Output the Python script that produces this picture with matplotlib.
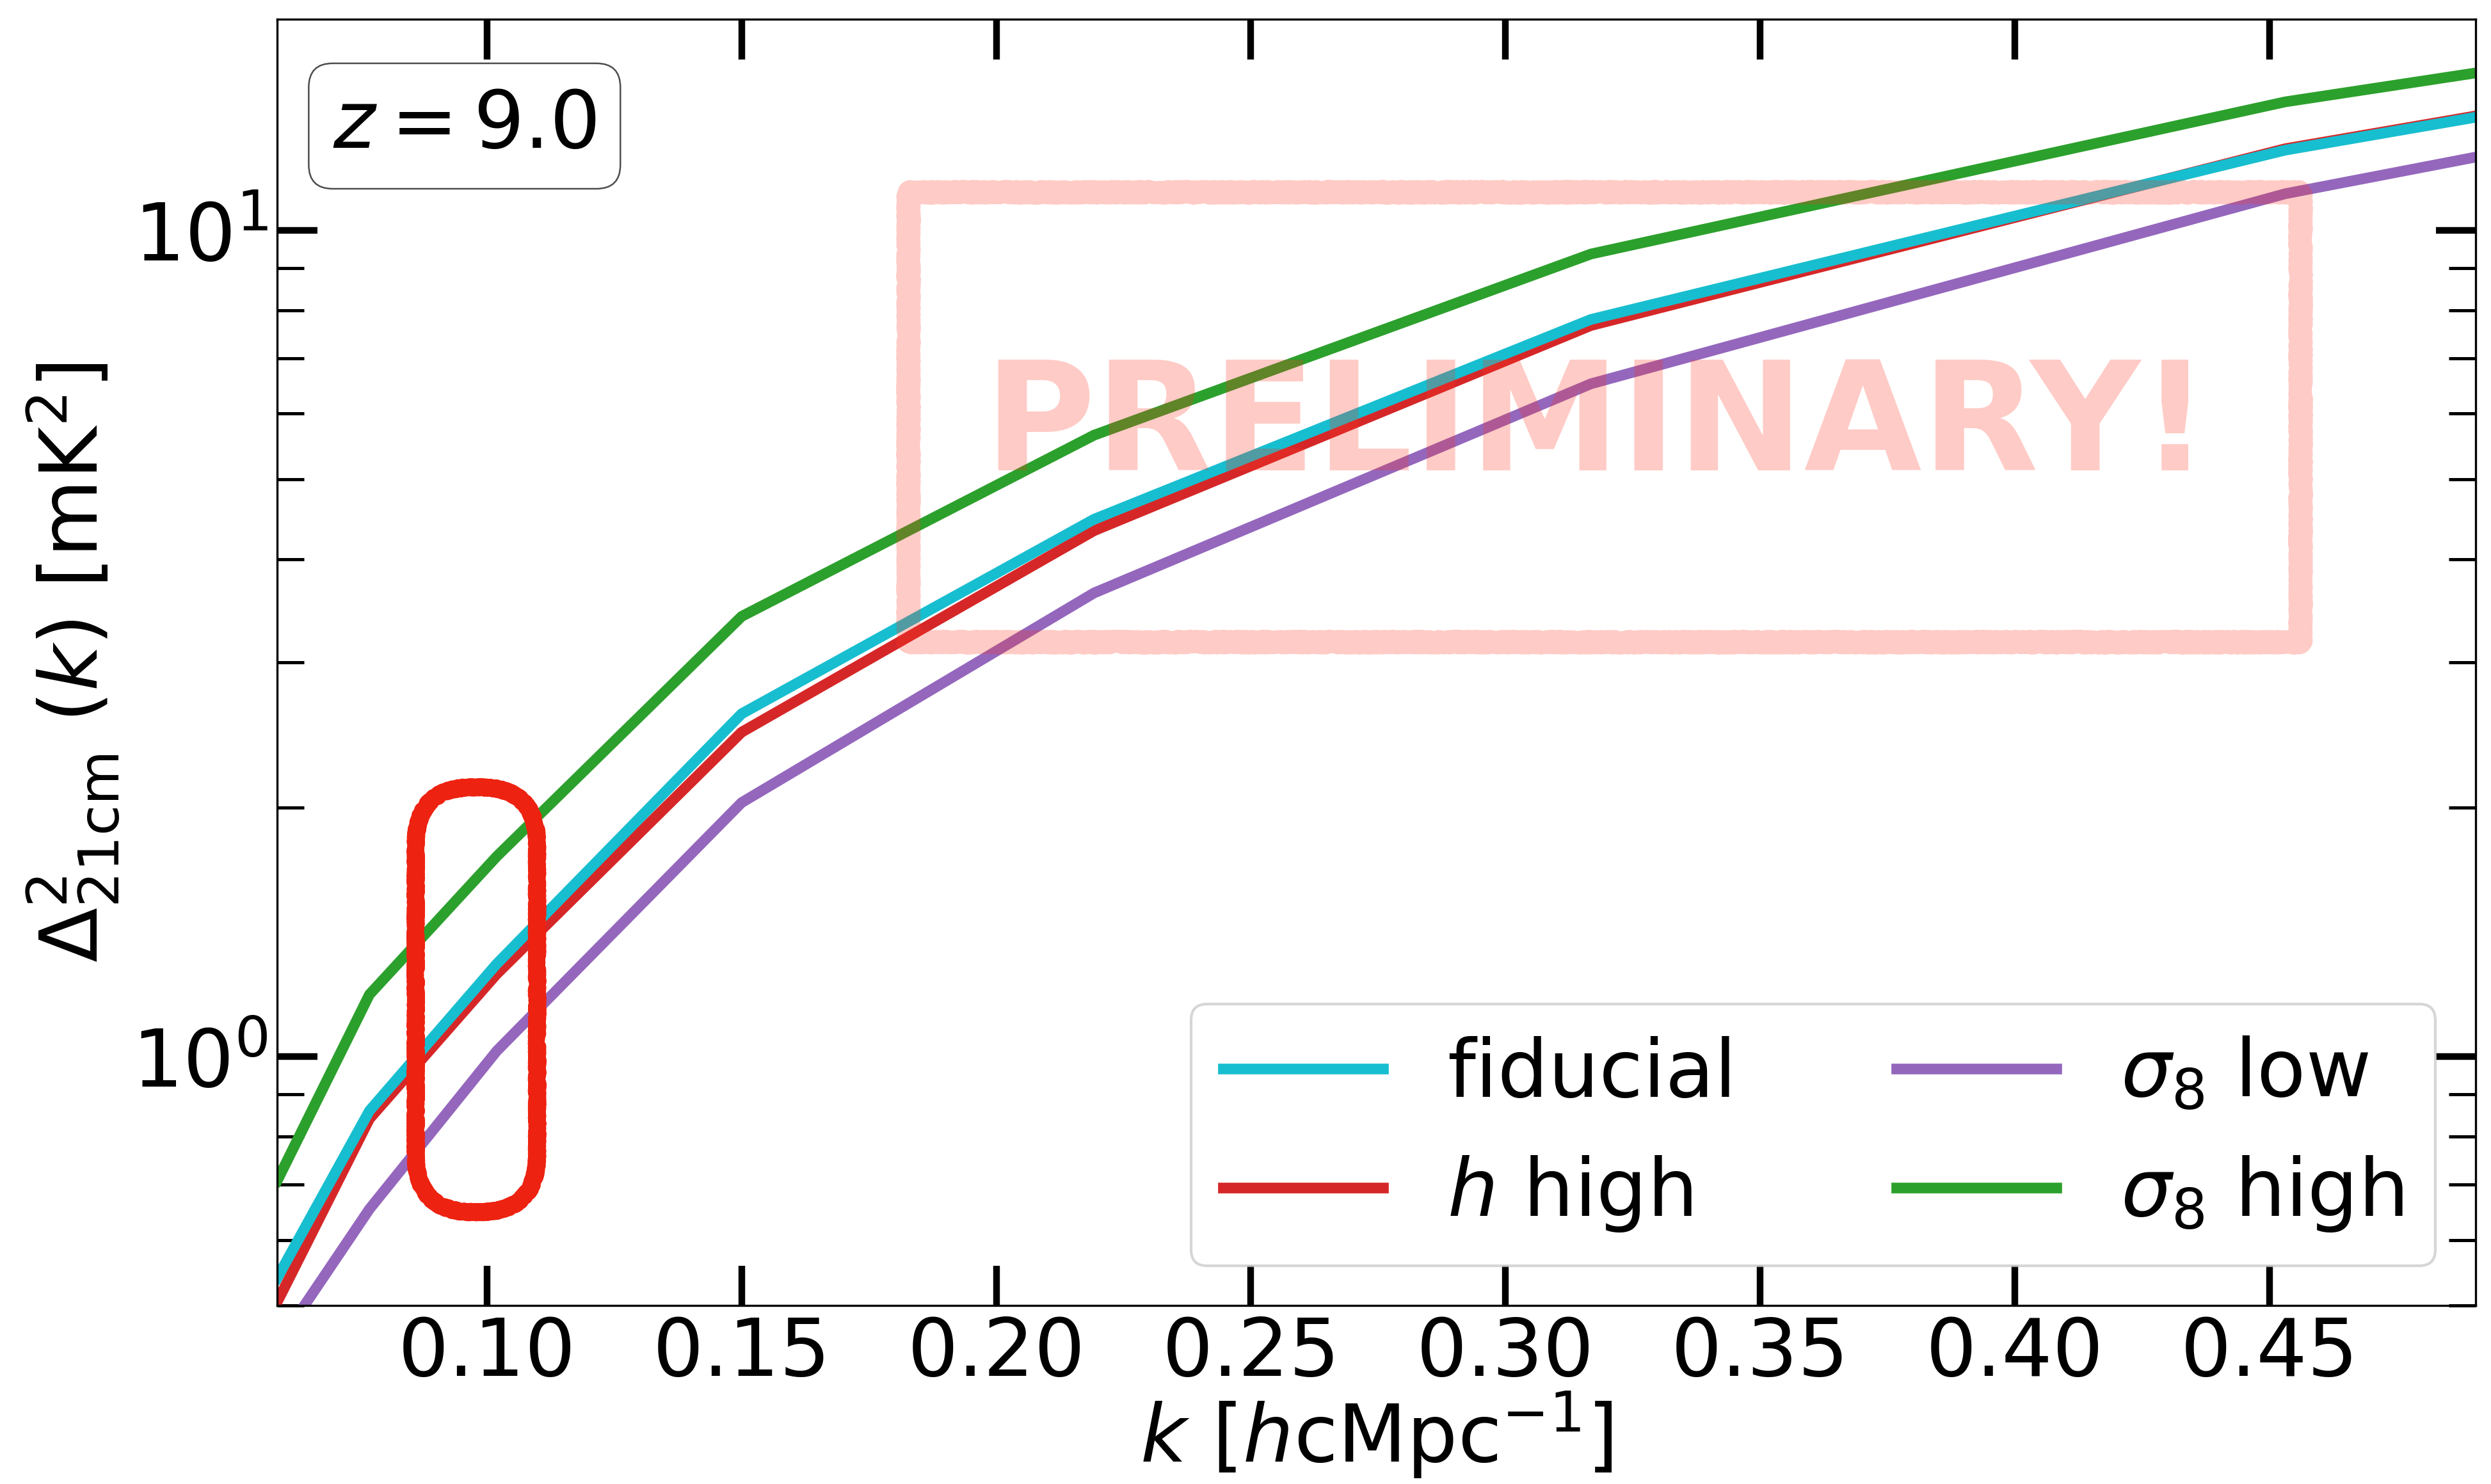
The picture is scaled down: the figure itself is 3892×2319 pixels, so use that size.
'''
21cm power spectrum at z = 9 for a few cosmologies (preliminary)
'''
import matplotlib
matplotlib.use('Agg')
import numpy as np
from matplotlib import pyplot as plt
from matplotlib.patches import FancyBboxPatch, Rectangle

# k bins [h cMpc^-1] (first / last entries sit on the plot edges)
k = [0.0588, 0.0769, 0.1019, 0.15, 0.2192, 0.3168, 0.4531, 0.4905]

# Delta^2_21cm [mK^2]
fiducial = [0.540, 0.860, 1.295, 2.60, 4.47, 7.80, 12.5, 13.7]
h_high = [0.505, 0.841, 1.259, 2.47, 4.33, 7.67, 12.55, 13.75]
sigma8_low = [0.447, 0.654, 1.016, 2.03, 3.64, 6.52, 11.07, 12.26]
sigma8_high = [0.708, 1.189, 1.747, 3.41, 5.65, 9.36, 14.3, 15.5]

labels = ['fiducial', r'$h$ high', r'$\sigma_8$ low', r'$\sigma_8$ high']
colors = ['tab:cyan', 'tab:red', 'tab:purple', 'tab:green']

plt.rcParams['font.size'] = 30

fig = plt.figure(figsize=(3892 / 300, 2319 / 300), dpi=300)
ax = fig.add_axes([0.1113, 0.1203, 0.9938 - 0.1113, 0.987 - 0.1203])

series = [fiducial, h_high, sigma8_low, sigma8_high]
zorders = [2.2, 2.1, 2.0, 2.0]
handles = []
for vals, lab, col, zo in zip(series, labels, colors, zorders):
    line, = ax.plot(k, vals, color=col, lw=4, label=lab, zorder=zo)
    handles.append(line)

ax.set_yscale('log')
ax.set_xlim(0.0588, 0.4905)
ax.set_ylim(0.5, 18)

ax.set_xlabel(r'$k$ [$h$cMpc$^{-1}$]', labelpad=-1)
ax.set_ylabel(r'$\Delta^2_{\rm 21cm}\ (k)$ [mK$^2$]')

ax.tick_params(which='both', direction='in', top=True, right=True)
ax.tick_params(which='major', length=15, width=2.5)
ax.tick_params(which='minor', length=10, width=1.2)

ax.legend(handles=handles, ncol=2, loc='lower right')

# redshift box
ax.text(0.0852, 0.917, r'$z = 9.0$', transform=ax.transAxes,
        ha='center', va='center',
        bbox=dict(boxstyle='round,pad=0.3', fc='white', ec='0.3', lw=0.6))

# watermark
wm_color = (1.0, 0.2, 0.12)
frame = Rectangle((0.287, 0.5162), 0.9202 - 0.287, 0.8659 - 0.5162,
                  transform=ax.transAxes, fill=False, ec=wm_color,
                  lw=8, alpha=0.25, zorder=5, joinstyle='round')
frame.set_sketch_params(scale=2.5, length=4, randomness=5)
ax.add_patch(frame)
ax.text(0.6003, 0.6493, 'PRELIMINARY!', transform=ax.transAxes,
        ha='center', va='baseline', fontsize=57, fontweight='bold',
        color=wm_color, alpha=0.25, zorder=5)

# hand-drawn highlight around k ~ 0.1
aspect = (0.9938 - 0.1113) * 3892 / ((0.987 - 0.1203) * 2319)
oval = FancyBboxPatch((0.0630, 0.0726), 0.0552, 0.3303,
                      boxstyle='round,pad=0,rounding_size=0.026',
                      mutation_aspect=aspect, transform=ax.transAxes,
                      fill=False, ec='#ee2211', lw=6, zorder=6,
                      joinstyle='round')
oval.set_sketch_params(scale=2, length=4, randomness=5)
ax.add_patch(oval)

fig.savefig('out.png', dpi=300)
